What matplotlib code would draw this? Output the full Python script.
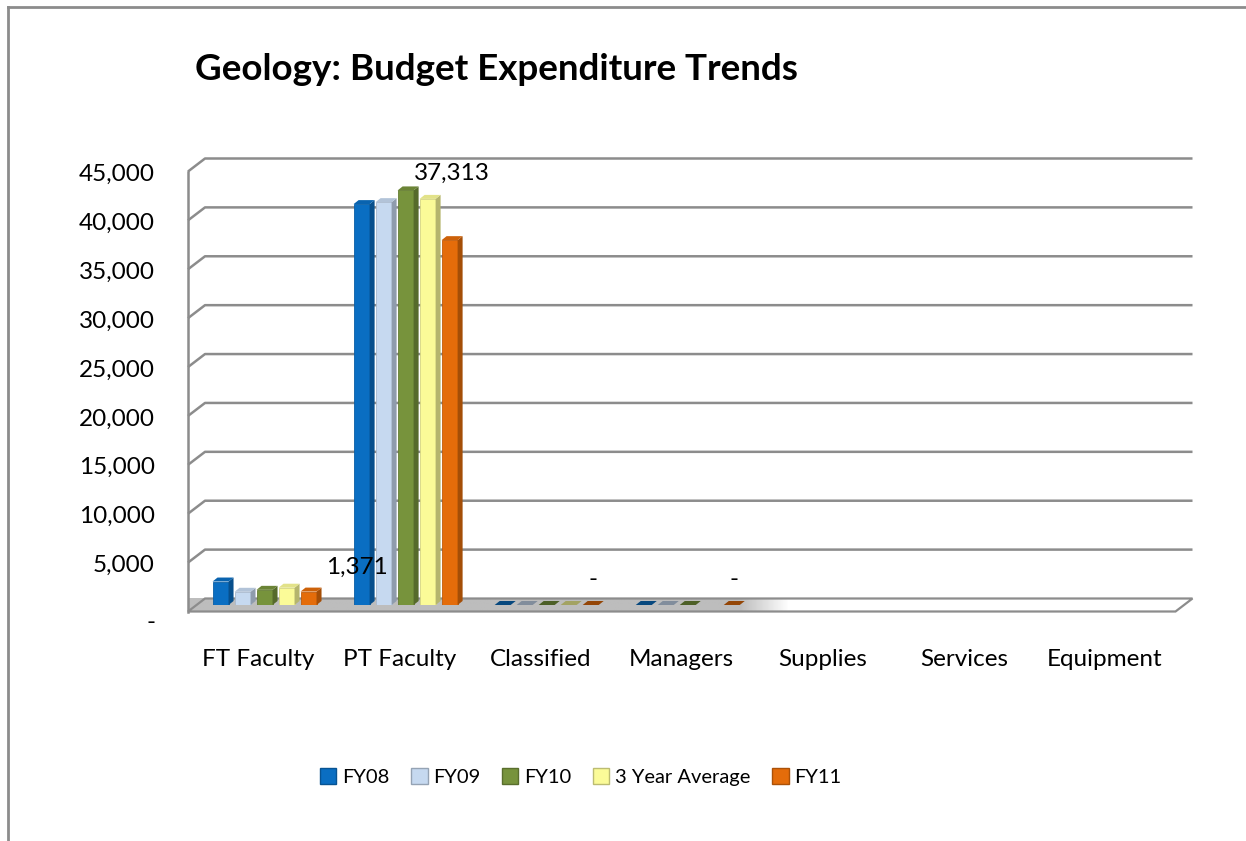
import numpy as np
import matplotlib.pyplot as plt
from matplotlib.patches import Polygon, Patch
from matplotlib.lines import Line2D
from matplotlib.colors import to_rgb

plt.rcParams['font.family'] = ['Lato', 'DejaVu Sans']

# data
categories = ["FT Faculty", "PT Faculty", "Classified", "Managers", "Supplies", "Services", "Equipment"]
series = ["FY08", "FY09", "FY10", "3 Year Average", "FY11"]
nan = np.nan
fy08 = [2400, 41000, 0, 0, nan, nan, nan]
fy09 = [1350, 41200, 0, 0, nan, nan, nan]
fy10 = [1550, 42400, 0, 0, nan, nan, nan]
avg3 = [1767, 41533, 0, nan, nan, nan, nan]
fy11 = [1371, 37313, 0, 0, nan, nan, nan]
yticks = [0, 5000, 10000, 15000, 20000, 25000, 30000, 35000, 40000, 45000]

fronts = ['#0a6ec2', '#c6d9f0', '#77933c', '#fbfb98', '#e46c0a']

# geometry (pixels -> data units)
W_PX, H_PX = 987.5, 440.0
NCAT, YMAX = len(categories), 45000
px_x = NCAT / W_PX
px_y = YMAX / H_PX
DX, DY = 8.5 * px_x, 6.5 * px_y          # half depth of the floor
BW, BDX, BDY = 16 * px_x, 5 * px_x, 4 * px_y
SLOT = 22 * px_x


def shade(c, f):
    r, g, b = to_rgb(c)
    return (r * f, g * f, b * f)


fig = plt.figure(figsize=(12.46, 8.41), dpi=100)
ax = fig.add_axes([196.5 / 1246, 1 - 605 / 841, W_PX / 1246, H_PX / 841])
ax.set_xlim(0, NCAT)
ax.set_ylim(0, YMAX)
ax.axis('off')

grid_c = '#8c8c8c'

# floor with fade to white
floor = Polygon([(-DX, -DY), (DX, DY), (NCAT + DX, DY), (NCAT - DX, -DY)],
                closed=True, facecolor='none', edgecolor=grid_c, lw=1.6,
                clip_on=False, zorder=2)
xs = np.linspace(-DX, NCAT + DX, 600)
t = np.clip((xs - 3.85) / 0.35, 0, 1)
vals = 0.74 + (1 - 0.74) * t
img = np.tile(vals, (10, 1))
im = ax.imshow(img, extent=(-DX, NCAT + DX, -DY, DY), aspect='auto', cmap='gray',
               vmin=0, vmax=1, origin='lower', zorder=1, clip_on=False)
ax.add_patch(floor)
im.set_clip_path(floor)

# back wall gridlines
for tk in yticks[1:]:
    ax.plot([-DX, DX, NCAT + DX], [tk - DY, tk + DY, tk + DY],
            color=grid_c, lw=1.8, clip_on=False, zorder=1, solid_capstyle='butt')
ax.plot([-DX, -DX], [-DY, YMAX - DY], color=grid_c, lw=1.8, clip_on=False, zorder=1)

# y labels on front plane
for tk in yticks:
    lab = '-' if tk == 0 else f'{tk:,}'
    dy = -11 if tk == 0 else -3
    ax.annotate(lab, xy=(-DX, tk - DY), xytext=(-33, dy), textcoords='offset pixels',
                ha='right', va='center', fontsize=17.5, annotation_clip=False)

# category labels
for j, cat in enumerate(categories):
    ax.annotate(cat, xy=(j + 0.5 - DX, -DY), xytext=(0, -48), textcoords='offset pixels',
                ha='center', va='center', fontsize=17.5, annotation_clip=False)

# 3d-ish bars
data = [fy08, fy09, fy10, avg3, fy11]
for i, vals_s in enumerate(data):
    fc = fronts[i]
    for j, v in enumerate(vals_s):
        if np.isnan(v):
            continue
        xc = j + 0.5 + (i - 2) * SLOT
        x0 = xc - (BW + BDX) / 2
        if v > 0:
            ax.bar(x0, v, width=BW, align='edge', color=fc, edgecolor=shade(fc, 0.85),
                   lw=0.6, zorder=3)
            side = Polygon([(x0 + BW, 0), (x0 + BW + BDX, BDY), (x0 + BW + BDX, v + BDY), (x0 + BW, v)],
                           closed=True, facecolor=shade(fc, 0.72), edgecolor='none', zorder=3)
            ax.add_patch(side)
        top = Polygon([(x0, v), (x0 + BDX, v + BDY), (x0 + BW + BDX, v + BDY), (x0 + BW, v)],
                      closed=True, facecolor=shade(fc, 0.9 if v > 0 else 0.65),
                      edgecolor='none', zorder=3)
        ax.add_patch(top)

# data labels for FY11
nudges = [(46, 24), (0, 67), (0, 26), (0, 26)]
for j, v in enumerate(fy11):
    if np.isnan(v):
        continue
    xc = j + 0.5 + 2 * SLOT
    lab = '-' if v == 0 else f'{v:,.0f}'
    nx, ny = nudges[j]
    ax.annotate(lab, xy=(xc, v), xytext=(nx, ny), textcoords='offset pixels',
                ha='center', va='center', fontsize=17.5, annotation_clip=False)

# title
fig.text(195 / 1246, 1 - 70 / 841, 'Geology: Budget Expenditure Trends',
         fontsize=26.5, fontweight='bold', ha='left', va='center')

# legend
handles = [Patch(facecolor=c, edgecolor=shade(c, 0.75)) for c in fronts]
fig.legend(handles, series, loc='center', bbox_to_anchor=(581 / 1246, 1 - 777 / 841),
           ncol=5, frameon=False, fontsize=14.5, handlelength=0.8, handleheight=0.8,
           handletextpad=0.3, columnspacing=1.07)

# chart border
fig.add_artist(Line2D([8 / 1246, 1], [1 - 7 / 841, 1 - 7 / 841], transform=fig.transFigure,
                      color=grid_c, lw=2))
fig.add_artist(Line2D([8 / 1246, 8 / 1246], [0, 1 - 7 / 841], transform=fig.transFigure,
                      color=grid_c, lw=2))

fig.savefig('out.png', dpi=100)
